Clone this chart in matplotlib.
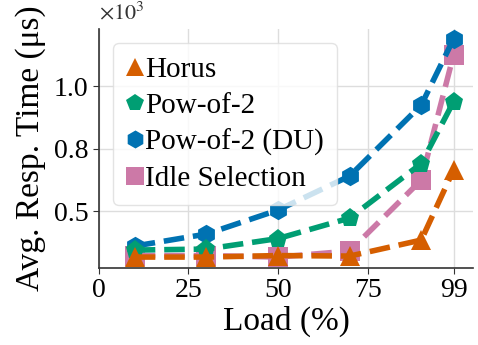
import matplotlib
matplotlib.use("Agg")
import matplotlib.pyplot as plt
from matplotlib.lines import Line2D
from matplotlib.ticker import FuncFormatter

plt.rcParams['font.family'] = ['Liberation Serif', 'DejaVu Serif']
plt.rcParams['mathtext.fontset'] = 'stix'

loads = [10, 30, 50, 70, 90, 99]
horus = [316, 316, 322, 320, 384, 664]
pow2 = [344, 348, 390, 472, 690, 937]
pow2_du = [360, 408, 504, 640, 924, 1188]
idle = [322, 322, 316, 340, 624, 1124]

series_names = ["Horus", "Pow-of-2", "Pow-of-2 (DU)", "Idle Selection"]
xticks = [0, 25, 50, 75, 99]
yticks = [500, 750, 1000]

colors = {"Horus": "#D55E00", "Pow-of-2": "#009E73",
          "Pow-of-2 (DU)": "#0072B2", "Idle Selection": "#CC79A7"}
markers = {"Horus": "^", "Pow-of-2": "p", "Pow-of-2 (DU)": "h", "Idle Selection": "s"}
data = {"Horus": horus, "Pow-of-2": pow2, "Pow-of-2 (DU)": pow2_du, "Idle Selection": idle}

fig = plt.figure(figsize=(4.78, 3.45), dpi=100)
ax = fig.add_axes([0.207, 0.223, 0.783, 0.693])

for name in ["Idle Selection", "Pow-of-2 (DU)", "Pow-of-2", "Horus"]:
    ax.plot(loads, data[name], color=colors[name], marker=markers[name],
            markersize=14, linewidth=4, linestyle='--', markeredgewidth=0)

ax.set_xlim(0, 104.5)
ax.set_ylim(272, 1228)
ax.set_xticks(xticks)
ax.set_yticks(yticks)
ax.yaxis.set_major_formatter(FuncFormatter(lambda v, p: f"{v/1000:.1f}"))
ax.tick_params(labelsize=20, length=4, color='#333333')
ax.grid(True, color='#dddddd', linewidth=1)
ax.set_axisbelow(True)
for s in ['top', 'right']:
    ax.spines[s].set_visible(False)
for s in ['left', 'bottom']:
    ax.spines[s].set_color('#333333')
    ax.spines[s].set_linewidth(1.2)

ax.set_xlabel("Load (%)", fontsize=24, labelpad=2)
ax.set_ylabel("Avg. Resp. Time (μs)", fontsize=24, labelpad=6)
ax.text(0.0, 1.02, r"$\times10^3$", transform=ax.transAxes, fontsize=16,
        color='#333333', ha='left', va='bottom')

handles = [Line2D([], [], color=colors[n], marker=markers[n], linestyle='none',
                  markersize=13, markeredgewidth=0) for n in series_names]
ax.legend(handles, series_names, loc='upper left', fontsize=21,
          bbox_to_anchor=(0.037, 0.94), handletextpad=0.05, borderpad=0.45,
          borderaxespad=0.0, labelspacing=0.33, handlelength=0.6,
          framealpha=0.8, edgecolor='#dddddd')

fig.savefig("out.png", dpi=100)
